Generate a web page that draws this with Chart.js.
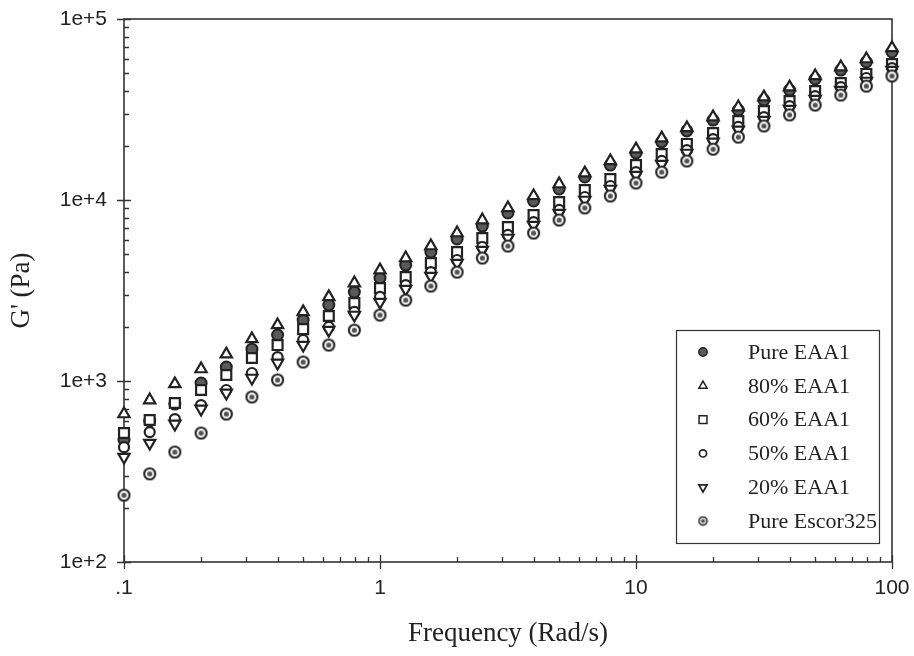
<!DOCTYPE html>
<html><head><meta charset="utf-8">
<script src="https://cdn.jsdelivr.net/npm/chart.js@4.4.0/dist/chart.umd.min.js"></script>
<style>html,body{margin:0;padding:0;background:#fff;}#wrap{width:914px;height:656px;}</style>
</head><body><div id="wrap"><canvas id="c" width="914" height="656"></canvas></div>
<script>
// Frequency (rad/s)
const frequency = [0.1,0.126,0.158,0.2,0.251,0.316,0.398,0.501,0.631,0.794,1,1.26,1.58,2,2.51,3.16,3.98,5.01,6.31,7.94,10,12.6,15.8,20,25.1,31.6,39.8,50.1,63.1,79.4,100];
// G' (Pa)
const pureEAA1 = [472,601,746,975,1195,1499,1795,2170,2630,3100,3703,4370,5157,6087,7178,8473,9874,11500,13400,15600,18180,20930,24080,27650,31400,35640,40480,46600,52230,57850,65700];
const eaa80 = [657,785,963,1165,1408,1707,2040,2408,2915,3477,4100,4780,5570,6570,7750,9040,10530,12260,14080,16430,19100,21980,25020,28720,32620,37030,42060,48450,54260,60100,69170];
const eaa60 = [516,609,756,892,1079,1340,1580,1934,2286,2698,3262,3753,4482,5157,6165,7088,8260,9749,11360,13060,15600,17950,20400,23450,27300,31000,35200,39970,44260,49700,56400];
const eaa50 = [431,522,616,736,892,1107,1355,1685,1989,2408,2915,3390,3997,4660,5498,6410,7556,8810,10390,11950,14260,16430,18860,21700,25340,28720,33050,37530,42060,47200,53580];
const eaa20 = [380,454,579,701,859,1039,1258,1580,1910,2315,2730,3220,3801,4482,5290,6165,7270,8473,10000,11500,13720,15800,18180,20930,24390,27650,31800,36100,40480,45430,52230];
const pureEscor325 = [234,307,405,516,657,816,1013,1273,1580,1910,2315,2800,3347,3997,4780,5570,6570,7750,9040,10530,12420,14260,16430,19100,22260,25640,29520,33470,38010,42600,48450];

const seriesNames = ['Pure EAA1','80% EAA1','60% EAA1','50% EAA1','20% EAA1','Pure Escor325'];
const xTickValues = [0.1,1,10,100];
const xTickLabels = ['.1','1','10','100'];
const yTickValues = [100,1000,10000,100000];
const yTickLabels = ['1e+2','1e+3','1e+4','1e+5'];

const INK = '#222';

function dotCircle(size, r, r2, lw){
  const c = document.createElement('canvas');
  c.width = size; c.height = size;
  const g = c.getContext('2d');
  g.beginPath(); g.arc(size/2, size/2, r, 0, Math.PI*2);
  g.fillStyle = '#fff'; g.fill();
  g.lineWidth = lw; g.strokeStyle = INK; g.stroke();
  g.beginPath(); g.arc(size/2, size/2, r2, 0, Math.PI*2);
  g.fillStyle = '#555'; g.fill();
  return c;
}
const escorImg = dotCircle(15, 5.5, 2.6, 2.1);
const escorLegendImg = dotCircle(11, 4, 2, 1.6);

function buildTicks(majors){
  const t = [];
  majors.forEach((d,i)=>{ t.push(d); if(i<majors.length-1){ for(let m=2;m<=9;m++) t.push(m*d); } });
  return t;
}
function isMajor(v, majors){ return majors.some(t=>Math.abs(t-v)/t < 1e-6); }
function pts(ys){ return frequency.map((x,i)=>({x:x, y:ys[i]})); }

const styles = [
  {pointStyle:'circle', radius:5.5, rotation:0, bg:'#5a5a5a', bw:2, lr:4.2, lbw:1.5},
  {pointStyle:'triangle', radius:6.5, rotation:0, bg:'#fff', bw:2.2, lr:4.8, lbw:1.5},
  {pointStyle:'rect', radius:7, rotation:0, bg:'#fff', bw:2.2, lr:5.6, lbw:1.5},
  {pointStyle:'circle', radius:5, rotation:0, bg:'#fff', bw:2.2, lr:3.6, lbw:1.7},
  {pointStyle:'triangle', radius:6.5, rotation:180, bg:'#fff', bw:2.2, lr:4.8, lbw:1.7},
  {pointStyle:escorImg, radius:6, rotation:0, bg:'#fff', bw:2, legendImg:escorLegendImg}
];
const seriesData = [pureEAA1, eaa80, eaa60, eaa50, eaa20, pureEscor325];

const datasets = seriesData.map((d,i)=>({
  label: seriesNames[i],
  data: pts(d),
  showLine: false,
  pointStyle: styles[i].pointStyle,
  pointRadius: styles[i].radius,
  pointRotation: styles[i].rotation,
  pointBackgroundColor: styles[i].bg,
  pointBorderColor: INK,
  pointBorderWidth: styles[i].bw,
  pointHoverRadius: styles[i].radius,
  clip: false,
  order: 5 - i
}));

const axesPlugin = {
  id:'axesPlugin',
  beforeDatasetsDraw(chart){
    const ctx = chart.ctx, ca = chart.chartArea;
    const xs = chart.scales.x, ys = chart.scales.y;
    ctx.save();
    ctx.strokeStyle = '#333';
    ctx.lineWidth = 1.6;
    ctx.strokeRect(ca.left, ca.top, ca.right-ca.left, ca.bottom-ca.top);
    ctx.lineWidth = 1.3;
    ctx.beginPath();
    ys.ticks.forEach(t=>{
      const py = Math.round(ys.getPixelForValue(t.value))+0.5;
      const maj = isMajor(t.value, yTickValues);
      ctx.moveTo(ca.left - (maj?7:0), py);
      ctx.lineTo(ca.left + (maj?7:5), py);
    });
    xs.ticks.forEach(t=>{
      const px = Math.round(xs.getPixelForValue(t.value))+0.5;
      const maj = isMajor(t.value, xTickValues);
      ctx.moveTo(px, ca.bottom + (maj?7:0));
      ctx.lineTo(px, ca.bottom - (maj?7:5));
    });
    ctx.stroke();
    ctx.restore();
  },
  afterDraw(chart){
    const ctx = chart.ctx, ca = chart.chartArea;
    const bx = ca.right - 216, by = ca.bottom - 232, bw = 203, bh = 213;
    ctx.save();
    ctx.fillStyle = '#fff';
    ctx.fillRect(bx, by, bw, bh);
    ctx.strokeStyle = '#333'; ctx.lineWidth = 1.2;
    ctx.strokeRect(bx+0.5, by+0.5, bw, bh);
    ctx.font = '22px "Liberation Serif"';
    ctx.textBaseline = 'middle';
    seriesNames.forEach((name,i)=>{
      const y = by + 22 + i*33.8;
      const st = styles[i];
      if(st.legendImg){
        ctx.drawImage(st.legendImg, bx+27-st.legendImg.width/2, y-st.legendImg.height/2);
      } else {
        ctx.fillStyle = st.bg; ctx.strokeStyle = INK; ctx.lineWidth = st.lbw;
        Chart.helpers.drawPoint(ctx, {pointStyle:st.pointStyle, radius:st.lr, rotation:st.rotation, borderWidth:st.lbw}, bx+27, y);
      }
      ctx.fillStyle = INK;
      ctx.fillText(name, bx+72, y+1);
    });
    ctx.restore();
  }
};

new Chart(document.getElementById('c'), {
  type:'scatter',
  data:{datasets},
  plugins:[axesPlugin],
  options:{
    responsive:false,
    animation:false,
    layout:{autoPadding:false, padding:{top:19, right:22, left:0, bottom:0}},
    plugins:{legend:{display:false}, tooltip:{enabled:false}},
    scales:{
      x:{
        type:'logarithmic', min:0.1, max:100,
        afterBuildTicks:s=>{ s.ticks = buildTicks(xTickValues).map(v=>({value:v})); },
        afterFit:s=>{ s.height = 94; s.paddingLeft = 0; s.paddingRight = 0; s.paddingTop = 0; s.paddingBottom = 0; },
        grid:{display:false, drawTicks:false},
        border:{display:false},
        ticks:{autoSkip:false, maxRotation:0, padding:14, color:INK,
          font:{family:'Liberation Sans', size:21},
          callback:(v)=>{ const i = xTickValues.findIndex(t=>Math.abs(t-v)/t<1e-6); return i>=0 ? xTickLabels[i] : ''; }},
        title:{display:true, text:'Frequency (Rad/s)', color:INK,
          font:{family:'Liberation Serif', size:27}, padding:{top:6,bottom:6}}
      },
      y:{
        type:'logarithmic', min:100, max:100000,
        afterBuildTicks:s=>{ s.ticks = buildTicks(yTickValues).map(v=>({value:v})); },
        afterFit:s=>{ s.width = 124; s.paddingLeft = 0; s.paddingRight = 0; s.paddingTop = 0; s.paddingBottom = 0; },
        grid:{display:false, drawTicks:false},
        border:{display:false},
        ticks:{autoSkip:false, padding:17, color:INK,
          font:{family:'Liberation Sans', size:21},
          callback:(v)=>{ const i = yTickValues.findIndex(t=>Math.abs(t-v)/t<1e-6); return i>=0 ? yTickLabels[i] : ''; }},
        title:{display:true, text:"G' (Pa)", color:INK,
          font:{family:'Liberation Serif', size:27}, padding:{top:6,bottom:6}}
      }
    }
  }
});
</script></body></html>
